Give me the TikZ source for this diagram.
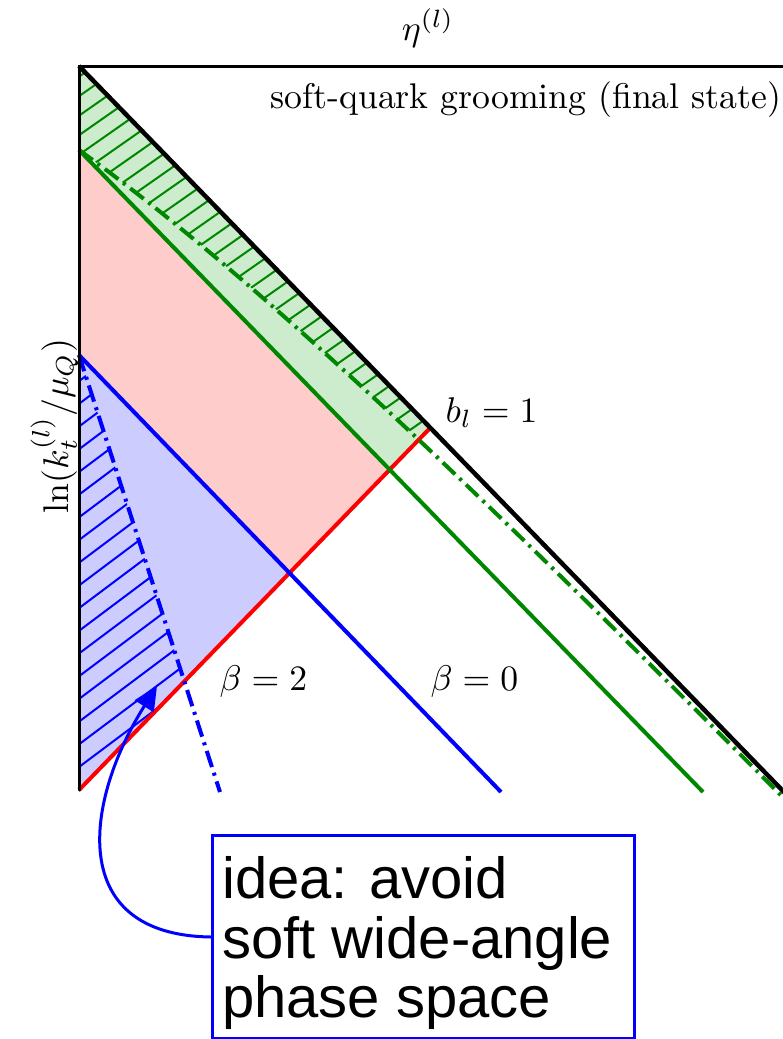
\documentclass[tikz,border=0pt]{standalone}
\usepackage{fontspec}
\newfontfamily\notefont{Liberation Sans}
\usetikzlibrary{arrows.meta}
\definecolor{pltgreen}{RGB}{0,135,0}
\definecolor{fillgreen}{RGB}{205,235,205}
\definecolor{fillred}{RGB}{255,204,204}
\definecolor{fillblue}{RGB}{204,204,255}
\begin{document}
\begin{tikzpicture}[x=1pt,y=-1pt,
  lbl/.style={scale=3.57, inner sep=0pt},
  note/.style={font=\notefont\fontsize{58}{60}\selectfont, inner sep=0pt, anchor=base west},
  axisline/.style={black, line width=3pt, line cap=round},
  boundary/.style={black, line width=4.5pt},
  redline/.style={red, line width=4pt},
  greenline/.style={pltgreen, line width=4pt},
  blueline/.style={blue, line width=4pt},
  bluedash/.style={blue, line width=4pt, dash pattern=on 17pt off 6pt on 3pt off 6pt},
  greendash/.style={pltgreen, line width=4pt, dash pattern=on 17pt off 6pt on 3pt off 6pt},
  ghatch/.style={pltgreen, line width=2pt},
  bhatch/.style={blue, line width=2pt},
  notebox/.style={draw=blue, line width=3pt, inner sep=0pt, minimum width=422pt, minimum height=203pt, anchor=north west},
  scribble/.style={blue, line width=3pt, -{Triangle[length=24pt,width=22pt]}}
]
\useasboundingbox (0,0) rectangle (782,1039);

\coordinate (A) at (79,66);
\coordinate (G0) at (79,150);
\coordinate (B0) at (79,355);
\coordinate (R0) at (79,790);
\coordinate (Bext) at (800,808.5);
\coordinate (Text) at (800,66);
\coordinate (Gend) at (703,792);
\coordinate (Blend) at (501,792);
\coordinate (Dend) at (220,792);
\coordinate (Rend) at (430.3,427.8);
\coordinate (GR) at (intersection of G0--Gend and R0--Rend);
\coordinate (BR) at (intersection of B0--Blend and R0--Rend);
\coordinate (DR) at (intersection of B0--Dend and R0--Rend);

% fills
\fill[fillgreen] (A) -- (Rend) -- (GR) -- (G0) -- cycle;
\fill[fillred] (G0) -- (GR) -- (BR) -- (B0) -- cycle;
\fill[fillblue] (B0) -- (BR) -- (R0) -- cycle;

% green hatching
\begin{scope}
  \clip (A) -- (Rend) -- (GR) -- (G0) -- cycle;
  \clip plot[domain=79:800,samples=60] (\x,{66+1.03*(\x-79)+84*exp(-(\x-79)/270)}) -- (800,0) -- (79,0) -- cycle;
  \foreach \c in {132,151.5,...,820}
    \draw[ghatch] (60,{\c-0.7*60}) -- (460,{\c-0.7*460});
\end{scope}

% blue hatching
\begin{scope}
  \clip (B0) -- (DR) -- (R0) -- cycle;
  \foreach \c in {395,417.7,...,960}
    \draw[bhatch] (60,{\c-0.75*60}) -- (220,{\c-0.75*220});
\end{scope}

% lines
\draw[redline] (R0) -- (Rend);
\draw[greenline] (G0) -- (Gend);
\draw[blueline] (B0) -- (Blend);
\draw[bluedash] (B0) -- (Dend);
\draw[greendash] plot[domain=79:790,samples=90] (\x,{66+1.03*(\x-79)+84*exp(-(\x-79)/270)});
\draw[boundary] (A) -- (Bext);
\draw[axisline] (R0) -- (A) -- (Text);

% labels
\node[lbl, anchor=base] (eta) at (428,40) {$\eta^{(l)}$};
\node[lbl, anchor=base west] (title) at (270,108) {soft-quark grooming (final state)};
\node[lbl, anchor=base west] (bl) at (445,422) {$b_l = 1$};
\node[lbl, anchor=base west] (b2) at (219,690) {$\beta = 2$};
\node[lbl, anchor=base west] (b0) at (430,690) {$\beta = 0$};
\node[lbl, rotate=90, anchor=base] (ylab) at (68,426) {$\ln(k_t^{(l)}/\mu_Q)$};

% note box
\node[notebox] (nbox) at (211,834) {};
\node[note] (l1) at (222,898) {idea: avoid};
\node[note] (l2) at (222,958) {soft wide-angle};
\node[note] (l3) at (222,1017) {phase space};
\coordinate (tip) at (157,686);
\draw[scribble] (nbox.west) .. controls (65,935) and (85,800) .. (tip);
\end{tikzpicture}
\end{document}
